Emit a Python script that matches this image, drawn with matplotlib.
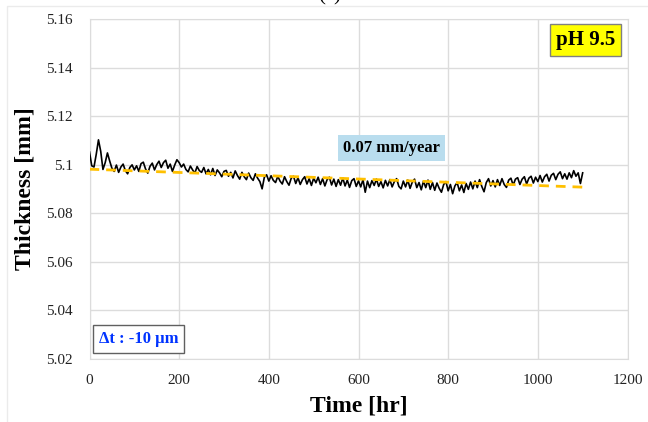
import numpy as np
import matplotlib
matplotlib.use("Agg")
import matplotlib.pyplot as plt
from matplotlib.lines import Line2D

# 두께 측정값 (5 hr 간격, 0 ~ 1100 hr)
hours = np.arange(0, 1101, 5)
thickness = [
    5.1052, 5.0995, 5.0990, 5.1042, 5.1102, 5.1055, 5.0980, 5.1008, 5.1048, 5.1015, 5.0985,
    5.0972, 5.0998, 5.0968, 5.0990, 5.1002, 5.0975, 5.0962, 5.0988, 5.0999, 5.0978,
    5.0995, 5.0972, 5.1004, 5.1010, 5.0982, 5.0965, 5.0993, 5.1006, 5.0978, 5.1000,
    5.1014, 5.0988, 5.1008, 5.1018, 5.0985, 5.1002, 5.0972, 5.0998, 5.1020, 5.1008,
    5.0990, 5.1002, 5.0980, 5.0970, 5.0994, 5.0978, 5.0965, 5.0992, 5.0975, 5.0968,
    5.0988, 5.0962, 5.0980, 5.0958, 5.0984, 5.0955, 5.0978, 5.0966, 5.0950, 5.0972,
    5.0976, 5.0952, 5.0968, 5.0945, 5.0974, 5.0955, 5.0940, 5.0968, 5.0950, 5.0938,
    5.0965, 5.0946, 5.0935, 5.0962, 5.0944, 5.0930, 5.0900, 5.0948, 5.0958, 5.0932,
    5.0954, 5.0935, 5.0926, 5.0952, 5.0932, 5.0920, 5.0950, 5.0930, 5.0915, 5.0944,
    5.0952, 5.0922, 5.0946, 5.0918, 5.0938, 5.0950, 5.0920, 5.0942, 5.0914, 5.0944,
    5.0925, 5.0948, 5.0918, 5.0942, 5.0912, 5.0938, 5.0948, 5.0916, 5.0940, 5.0910,
    5.0938, 5.0915, 5.0945, 5.0912, 5.0936, 5.0906, 5.0934, 5.0942, 5.0910, 5.0933,
    5.0908, 5.0938, 5.0886, 5.0932, 5.0905, 5.0934, 5.0914, 5.0940, 5.0910, 5.0930,
    5.0904, 5.0935, 5.0912, 5.0938, 5.0908, 5.0930, 5.0942, 5.0910, 5.0900, 5.0932,
    5.0908, 5.0936, 5.0902, 5.0928, 5.0940, 5.0905, 5.0926, 5.0896, 5.0932, 5.0905,
    5.0936, 5.0898, 5.0926, 5.0894, 5.0924, 5.0902, 5.0886, 5.0918, 5.0930, 5.0892,
    5.0918, 5.0880, 5.0912, 5.0926, 5.0892, 5.0916, 5.0885, 5.0922, 5.0898, 5.0928,
    5.0900, 5.0932, 5.0905, 5.0938, 5.0910, 5.0888, 5.0926, 5.0942, 5.0912, 5.0934,
    5.0908, 5.0938, 5.0914, 5.0942, 5.0918, 5.0906, 5.0936, 5.0944, 5.0915, 5.0940,
    5.0946, 5.0918, 5.0940, 5.0950, 5.0920, 5.0944, 5.0952, 5.0924, 5.0948, 5.0930,
    5.0955, 5.0928, 5.0950, 5.0960, 5.0932, 5.0956, 5.0964, 5.0938, 5.0960, 5.0970,
    5.0942, 5.0962, 5.0940, 5.0966, 5.0946, 5.0975, 5.0952, 5.0966, 5.0922, 5.0966,
]

# 추세선 (선형)
trend_x = [0, 1100]
trend_y = [5.0981, 5.0907]

x_ticks = [0, 200, 400, 600, 800, 1000, 1200]
y_ticks = [5.02, 5.04, 5.06, 5.08, 5.1, 5.12, 5.14, 5.16]
y_ticklabels = ["5.02", "5.04", "5.06", "5.08", "5.1", "5.12", "5.14", "5.16"]

plt.rcParams['font.family'] = ['Liberation Serif', 'DejaVu Serif']

fig = plt.figure(figsize=(6.48, 4.22), dpi=100)
W, H = 648, 422
ax = fig.add_axes([89.5 / W, 1 - 358.7 / H, (627.5 - 89.5) / W, (358.7 - 19) / H])

ax.plot(hours, thickness, color='black', lw=1.2, zorder=3)
ax.plot(trend_x, trend_y, color='#FFC000', lw=2, ls=(0, (3.5, 2.5)), zorder=4)

ax.set_xlim(0, 1200)
ax.set_ylim(5.02, 5.16)
ax.set_xticks(x_ticks)
ax.set_yticks(y_ticks)
ax.set_yticklabels(y_ticklabels)
ax.grid(True, color='#DCDCDC', lw=1)
ax.set_axisbelow(True)
for s in ax.spines.values():
    s.set_color('#DCDCDC')
ax.tick_params(length=0, labelsize=11, labelcolor='#222222')
ax.tick_params(axis='x', pad=11)
ax.tick_params(axis='y', pad=12)

ax.set_xlabel('Time [hr]', fontsize=17, fontweight='bold', labelpad=6)
ax.set_ylabel('Thickness [mm]', fontsize=17, fontweight='bold', labelpad=8)

# 주석
ax.text(0.922, 0.938, 'pH 9.5', transform=ax.transAxes, ha='center', va='center',
        fontsize=15, fontweight='bold',
        bbox=dict(boxstyle='square,pad=0.3', fc='#FFFF00', ec='#808080', lw=1))
ax.text(0.5617, 0.619, '0.07 mm/year', transform=ax.transAxes, ha='center', va='center',
        fontsize=12, fontweight='bold',
        bbox=dict(boxstyle='square,pad=0.3', fc='#B9DDEE', ec='none'))
ax.text(0.091, 0.058, 'Δt : -10 μm', transform=ax.transAxes, ha='center', va='center',
        fontsize=12, fontweight='bold', color='#0033FF',
        bbox=dict(boxstyle='square,pad=0.35', fc='white', ec='#606060', lw=1))

# 상단 라벨 (잘림) 및 바깥 테두리
fig.text(330 / W, 0.986, '(c)', ha='center', va='bottom', fontsize=15)
fig.add_artist(Line2D([7 / W, 7 / W, 1], [0, 1 - 6 / H, 1 - 6 / H],
                      transform=fig.transFigure, color='#EBEBEB', lw=1))

fig.savefig('out.png', dpi=100)
